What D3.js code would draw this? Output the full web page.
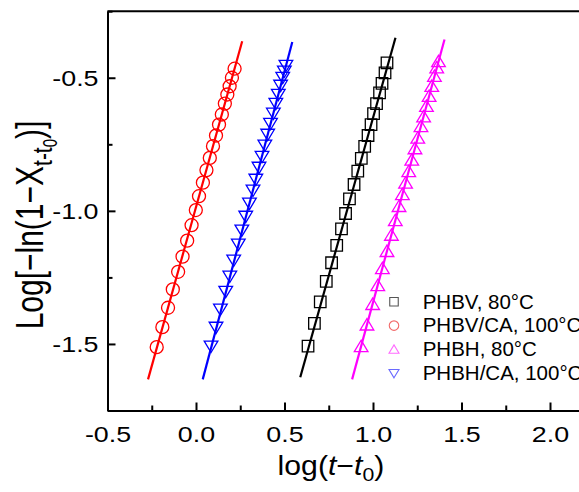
<!DOCTYPE html>
<html>
<head>
<meta charset="utf-8">
<script src="https://cdn.jsdelivr.net/npm/d3@7"></script>
<style>
  html, body { margin: 0; padding: 0; background: #fff; }
  svg { display: block; }
  text { font-family: "Liberation Sans", Arial, sans-serif; fill: #000; }
</style>
</head>
<body>
<svg id="chart" width="579" height="492"></svg>
<script>
// ---------------- data ----------------
const seriesNames = ["PHBV, 80\u00B0C", "PHBV/CA, 100\u00B0C", "PHBH, 80\u00B0C", "PHBH/CA, 100\u00B0C"];

const phbvX = [0.633,0.669,0.702,0.736,0.766,0.795,0.822,0.845,0.867,0.893,0.914,0.934,0.953,0.972,0.989,1.003,1.020,1.037,1.051,1.068,1.079];
const phbvY = [-1.508,-1.423,-1.342,-1.265,-1.195,-1.130,-1.068,-1.010,-0.955,-0.901,-0.851,-0.803,-0.758,-0.717,-0.676,-0.635,-0.597,-0.557,-0.521,-0.482,-0.444];

const phbvcaX = [-0.222,-0.190,-0.158,-0.131,-0.101,-0.076,-0.050,-0.025,-0.001,0.017,0.039,0.059,0.078,0.096,0.113,0.130,0.146,0.163,0.177,0.190,0.203,0.218];
const phbvcaY = [-1.512,-1.437,-1.364,-1.295,-1.229,-1.172,-1.112,-1.054,-0.997,-0.945,-0.894,-0.847,-0.801,-0.757,-0.717,-0.676,-0.638,-0.597,-0.563,-0.532,-0.500,-0.466];

const phbhX = [0.933,0.966,0.998,1.027,1.053,1.079,1.104,1.126,1.147,1.166,1.184,1.202,1.219,1.237,1.253,1.271,1.286,1.302,1.317,1.332,1.347,1.360,1.370];
const phbhY = [-1.509,-1.428,-1.351,-1.280,-1.216,-1.152,-1.091,-1.036,-0.983,-0.938,-0.895,-0.852,-0.809,-0.766,-0.726,-0.683,-0.646,-0.607,-0.569,-0.532,-0.494,-0.462,-0.439];

const phbhcaX = [0.085,0.113,0.138,0.168,0.191,0.213,0.239,0.259,0.281,0.302,0.322,0.338,0.356,0.373,0.389,0.405,0.421,0.437,0.451,0.465,0.478,0.490,0.499,0.508];
const phbhcaY = [-1.509,-1.438,-1.370,-1.303,-1.246,-1.186,-1.126,-1.073,-1.021,-0.972,-0.923,-0.882,-0.837,-0.796,-0.754,-0.713,-0.672,-0.634,-0.597,-0.563,-0.529,-0.499,-0.476,-0.454];

// fitted lines (end points)
const phbvFitX = [0.589, 1.127],   phbvFitY = [-1.625, -0.350];
const phbvcaFitX = [-0.271, 0.261], phbvcaFitY = [-1.633, -0.363];
const phbhFitX = [0.882, 1.404],   phbhFitY = [-1.633, -0.356];
const phbhcaFitX = [0.038, 0.544], phbhcaFitY = [-1.633, -0.366];

const xTicks = [-0.5, 0.0, 0.5, 1.0, 1.5, 2.0];
const xTickLabels = ["-0.5", "0.0", "0.5", "1.0", "1.5", "2.0"];
const xMinorTicks = [-0.25, 0.25, 0.75, 1.25, 1.75, 2.25];
const yTicks = [-1.5, -1.0, -0.5];
const yTickLabels = ["-1.5", "-1.0", "-0.5"];
const yMinorTicks = [-1.75, -1.25, -0.75, -0.25];

// ---------------- drawing ----------------
const svg = d3.select("#chart");
const x = d3.scaleLinear().domain([-0.5, 2.5]).range([107.5, 638.5]);
const y = d3.scaleLinear().domain([-1.75, -0.25]).range([410.5, 11.2]);

const colors = ["#000000", "#ff0000", "#ff00ff", "#0000ff"];
const legendColors = ["#555555", "#f26a6a", "#ff6cff", "#6a6aff"];
const shapes = ["square", "circle", "up", "down"];

function shapePath(kind, s) {
  const h = s / 2;
  if (kind === "square") return `M${-h},${-h}H${h}V${h}H${-h}Z`;
  if (kind === "circle") return `M${h},0A${h},${h} 0 1,1 ${-h},0A${h},${h} 0 1,1 ${h},0Z`;
  if (kind === "up") return `M0,${-h*0.95}L${h*1.05},${h*0.8}L${-h*1.05},${h*0.8}Z`;
  return `M0,${h*0.95}L${h*1.05},${-h*0.8}L${-h*1.05},${-h*0.8}Z`;
}

svg.append("defs").append("clipPath").attr("id", "clip")
  .append("rect").attr("x", 107.5).attr("y", 11.2).attr("width", 531).attr("height", 399.3);

const series = [
  {xs: phbvX, ys: phbvY, fx: phbvFitX, fy: phbvFitY, size: 11.5},
  {xs: phbvcaX, ys: phbvcaY, fx: phbvcaFitX, fy: phbvcaFitY, size: 13},
  {xs: phbhX, ys: phbhY, fx: phbhFitX, fy: phbhFitY, size: 13},
  {xs: phbhcaX, ys: phbhcaY, fx: phbhcaFitX, fy: phbhcaFitY, size: 13}
];

const plot = svg.append("g").attr("clip-path", "url(#clip)");
series.forEach((s, i) => {
  plot.append("g").selectAll("path")
    .data(s.xs.map((v, k) => [v, s.ys[k]]))
    .join("path")
    .attr("transform", d => `translate(${x(d[0])},${y(d[1])})`)
    .attr("d", shapePath(shapes[i], s.size))
    .attr("fill", "none")
    .attr("stroke", colors[i])
    .attr("stroke-width", 1.3);
});
const line = d3.line().x(d => x(d[0])).y(d => y(d[1]));
series.forEach((s, i) => {
  plot.append("path")
    .datum(s.fx.map((v, k) => [v, s.fy[k]]))
    .attr("d", line)
    .attr("fill", "none")
    .attr("stroke", colors[i])
    .attr("stroke-width", 2.2);
});

// axes
const tickStretch = 1.22;
const xAxis = svg.append("g").attr("transform", `translate(0,${y(-1.75)})`)
  .call(d3.axisBottom(x).tickValues(xTicks).tickSizeInner(-8).tickSizeOuter(0)
    .tickFormat((d, i) => xTickLabels[i]));
xAxis.selectAll("text").attr("y", 0).attr("dy", 0)
  .attr("transform", `translate(0,31) scale(${tickStretch},1)`)
  .style("font-size", "22px").style("font-family", "'Liberation Sans', Arial, sans-serif").attr("fill", "#000");
svg.append("g").attr("transform", `translate(0,${y(-1.75)})`)
  .call(d3.axisBottom(x).tickValues(xMinorTicks).tickSizeInner(-5).tickSizeOuter(0).tickFormat(""));

const yAxis = svg.append("g").attr("transform", `translate(${x(-0.5)},0)`)
  .call(d3.axisLeft(y).tickValues(yTicks).tickSizeInner(-8).tickSizeOuter(0)
    .tickFormat((d, i) => yTickLabels[i]));
yAxis.selectAll("text").attr("x", 0).attr("dy", "0.36em")
  .attr("transform", `translate(-9,0) scale(${tickStretch},1)`)
  .attr("text-anchor", "end")
  .style("font-size", "22px").style("font-family", "'Liberation Sans', Arial, sans-serif").attr("fill", "#000");
svg.append("g").attr("transform", `translate(${x(-0.5)},0)`)
  .call(d3.axisLeft(y).tickValues(yMinorTicks).tickSizeInner(-5).tickSizeOuter(0).tickFormat(""));

svg.selectAll(".domain").attr("stroke", "#000").attr("stroke-width", 2);
svg.selectAll(".tick line").attr("stroke", "#000").attr("stroke-width", 2);

// top frame line
svg.append("line").attr("x1", x(-0.5)).attr("x2", x(2.5)).attr("y1", y(-0.25)).attr("y2", y(-0.25))
  .attr("stroke", "#000").attr("stroke-width", 2);
svg.append("line").attr("x1", x(2.5)).attr("x2", x(2.5)).attr("y1", y(-0.25)).attr("y2", y(-1.75))
  .attr("stroke", "#000").attr("stroke-width", 2);

// y title
const yt = svg.append("text")
  .attr("transform", "translate(43,225) scale(1.3,1) rotate(-90)")
  .attr("text-anchor", "middle")
  .style("font-size", "30px");
yt.append("tspan").text("Log[\u2212ln(1\u2212");
yt.append("tspan").text("X");
yt.append("tspan").attr("dy", 7).style("font-size", "21px").text("t-t");
yt.append("tspan").attr("dy", 4).style("font-size", "15px").text("0");
yt.append("tspan").attr("dy", -11).text(")]");

// x title
const xt = svg.append("text")
  .attr("transform", "translate(331,475) scale(1.12,1)")
  .attr("text-anchor", "middle")
  .style("font-size", "27px");
xt.append("tspan").text("log(");
xt.append("tspan").style("font-style", "italic").text("t");
xt.append("tspan").text("\u2212");
xt.append("tspan").style("font-style", "italic").text("t");
xt.append("tspan").attr("dy", 6).style("font-size", "19px").text("0");
xt.append("tspan").attr("dy", -6).text(")");

// legend
const legend = svg.append("g");
const legRowY = [301.7, 325.6, 349.4, 373.3];
seriesNames.forEach((name, i) => {
  legend.append("path")
    .attr("transform", `translate(394,${legRowY[i]})`)
    .attr("d", shapePath(shapes[i], i === 0 ? 8.5 : 9.5))
    .attr("fill", "none")
    .attr("stroke", legendColors[i])
    .attr("stroke-width", 1.1);
  legend.append("text")
    .attr("x", 422.7).attr("y", legRowY[i] + 6.8)
    .style("font-size", "20.5px")
    .attr("fill", "#222")
    .text(name);
});
</script>
</body>
</html>
